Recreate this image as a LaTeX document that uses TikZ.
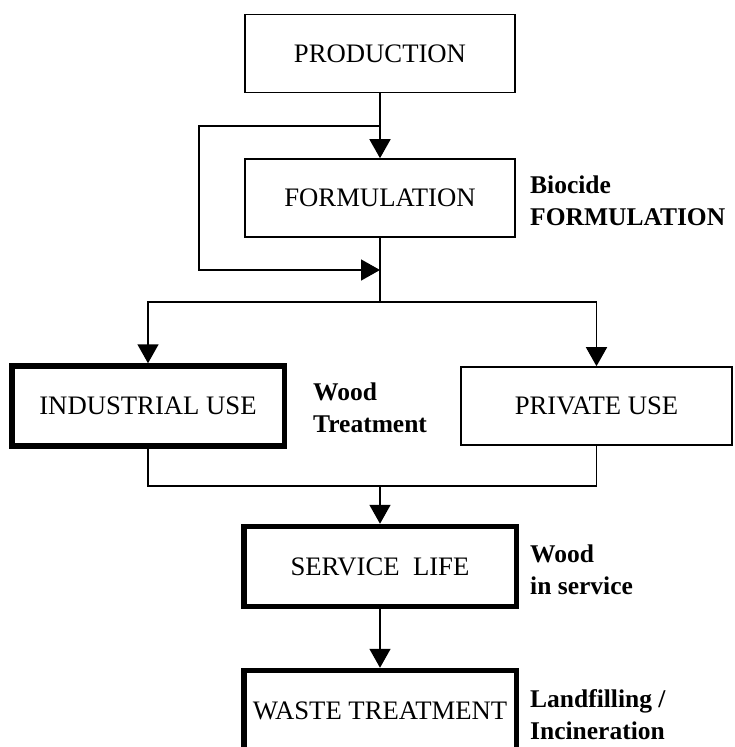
\documentclass[tikz,border=0pt]{standalone}
\usepackage{fontspec}
\setmainfont{Liberation Serif}
\usetikzlibrary{arrows.meta}
\begin{document}
\begin{tikzpicture}[x=1pt,y=-1pt,
  box/.style={draw, line width=1.6pt, inner sep=0pt,
    font=\fontsize{26.7}{32}\selectfont,
    minimum width=270.5pt, minimum height=78pt},
  heavybox/.style={box, line width=5.5pt,
    minimum width=272.5pt, minimum height=80pt},
  flow/.style={line width=1.6pt},
  arrow/.style={flow, -{Triangle[length=19pt,width=21pt]}},
  note/.style={font=\fontsize{25.5}{31.5}\selectfont\bfseries,
    align=left, inner sep=0pt, anchor=base west}]
\clip (0,0) rectangle (734,747);
\fill[white] (0,0) rectangle (734,747);

% process boxes
\node[box] (prod) at (380,53.5) {PRODUCTION};
\node[box] (form) at (380,198) {FORMULATION};
\node[heavybox] (ind) at (148,406) {INDUSTRIAL USE};
\node[box, minimum width=271.5pt] (priv) at (596.5,406) {PRIVATE USE};
\node[heavybox] (serv) at (380,566.5) {SERVICE\ \ LIFE};
\node[heavybox] (waste) at (380,710.5) {WASTE TREATMENT};

% junction points
\coordinate (j1) at (380,126);
\coordinate (loopbot) at (199,270);
\coordinate (j2) at (380,270);
\coordinate (split) at (380,302);
\coordinate (merge) at (380,486);

% connectors
\draw[arrow] (prod.south) -- (form.north);
\draw[arrow] (j1) -| (loopbot) -- (j2);
\draw[flow] (form.south) -- (split);
\draw[arrow] (split) -| (ind.north);
\draw[arrow] (split) -| (priv.north);
\draw[flow] (ind.south) |- (merge);
\draw[flow] (priv.south) |- (merge);
\draw[arrow] (merge) -- (serv.north);
\draw[arrow] (serv.south) -- (waste.north);

% side notes (anchored on the baseline of their last line)
\node[note] (n1) at (530,225) {Biocide\\FORMULATION};
\node[note] (n2) at (313,432) {Wood\\Treatment};
\node[note] (n3) at (530,594) {Wood\\in service};
\node[note] (n4) at (530,739) {Landfilling /\\Incineration};
\end{tikzpicture}
\end{document}
